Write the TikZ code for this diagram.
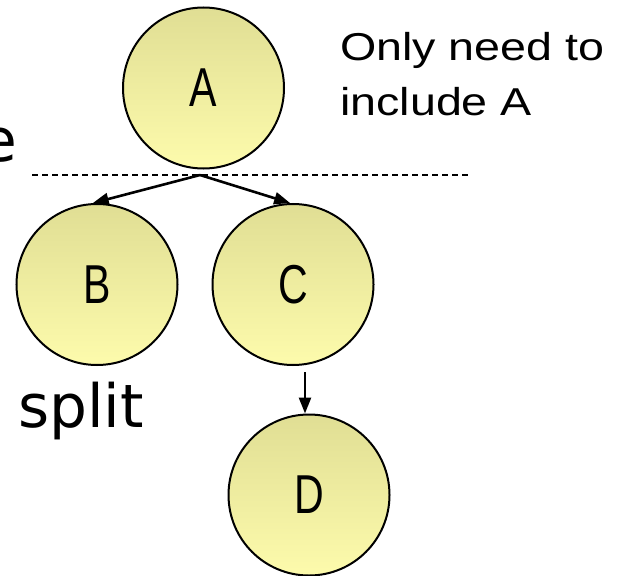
\documentclass[tikz,border=0pt]{standalone}
\usepackage{fontspec}
\setmainfont{Liberation Sans}
\newfontfamily\ballfont[FakeStretch=0.75]{Liberation Sans}
\newfontfamily\notefont[FakeStretch=1.2]{Liberation Sans}
\newfontfamily\handfont{DejaVu Sans}
\usepackage{tikz}
\usetikzlibrary{arrows.meta}
\usetikzlibrary{shapes}

\begin{document}
\begin{tikzpicture}[x=1bp,y=-1bp]
\tikzstyle{ball}=[circle, draw=black, line width=2bp, top color={rgb,255:red,224;green,222;blue,148},
    bottom color={rgb,255:red,253;green,251;blue,172}, minimum size=161bp, inner sep=0,
    font=\ballfont\fontsize{55}{60}\selectfont]
\tikzstyle{link}=[line width=2.6bp, -{Triangle[length=16bp,width=12bp]}]
\useasboundingbox (0,0) rectangle (625,576);

    \node[ball] (A) at (203.5,88) {A};
    \node[ball] (B) at (97,284.5) {B};
    \node[ball] (C) at (293,284.5) {C};
    \node[ball] (D) at (309,495) {D};

\coordinate (cut) at (200,175);
\draw[line width=1.7bp, dash pattern=on 6bp off 4bp] (32,175) -- (468,175);
\draw[link] (cut)--(B.93);
\draw[link] (cut)--(C.92);

\coordinate (drop) at (305,372);
\draw[link] (drop)--(drop |- D.north);

\node[anchor=base west, inner sep=0, align=left, font=\notefont\fontsize{39}{56}\selectfont]
    (note) at (340,116) {Only need to\\include A};
\node[anchor=base west, inner sep=0, font=\handfont\fontsize{60}{60}\selectfont] (split) at (18,427) {split};
\node[anchor=base east, inner sep=0, font=\handfont\fontsize{60}{60}\selectfont] (cutword) at (17,162) {e};
\end{tikzpicture}
\end{document}
